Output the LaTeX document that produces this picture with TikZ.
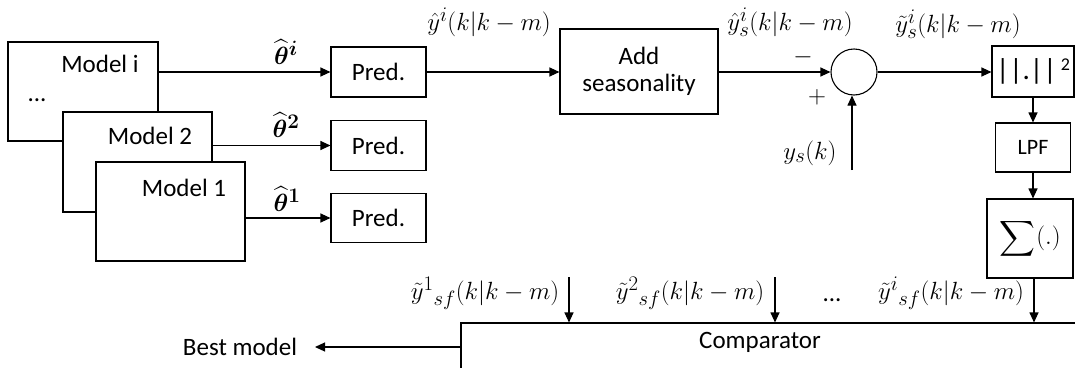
\documentclass[tikz,border=0pt]{standalone}
\usepackage{amsmath}
\usepackage{fontspec}
\setmainfont{Carlito}
\usetikzlibrary{arrows.meta}
\begin{document}
\begin{tikzpicture}[x=1pt,y=-1pt,line width=1.1pt,
  box/.style={draw,rectangle,inner sep=0pt,fill=white},
  arr/.style={-{Triangle[length=10pt,width=9pt]}},
  lbl/.style={inner sep=0pt},
  mlbl/.style={inner sep=0pt,font=\fontsize{27.5}{32}\selectfont},
  font=\fontsize{25}{30}\selectfont]
\clip (0,0) rectangle (1075,367);
% model boxes
\node[box,minimum width=150pt,minimum height=99pt] (mi) at (83,91.5) {};
\node[lbl] (mit) at (100,64) {Model i};
\node[lbl] (dots1) at (37,100) {...};
\node[box,minimum width=149pt,minimum height=100pt] (m2) at (137.5,162) {};
\node[lbl] (m2t) at (150,136) {Model 2};
\node[box,minimum width=149pt,minimum height=99pt] (m1) at (170.5,211.5) {};
\node[lbl] (m1t) at (184,188) {Model 1};
% pred boxes
\node[box,minimum width=95pt,minimum height=50pt] (pi) at (378.5,72) {Pred.};
\node[box,minimum width=95pt,minimum height=50pt] (p2) at (378.5,145.5) {Pred.};
\node[box,minimum width=95pt,minimum height=49pt] (p1) at (378.5,218) {Pred.};
\draw[arr] (pi.west -| mi.east) -- (pi.west);
\draw[arr] (p2.west -| m2.east) -- (p2.west);
\draw[arr] (p1.west -| m1.east) -- (p1.west);
\node[mlbl] (thi) at (286,52) {$\widehat{\boldsymbol{\theta}}{}^{\boldsymbol{i}}$};
\node[mlbl] (th2) at (286,125) {$\widehat{\boldsymbol{\theta}}{}^{\boldsymbol{2}}$};
\node[mlbl] (th1) at (287,199) {$\widehat{\boldsymbol{\theta}}{}^{\boldsymbol{1}}$};
% add seasonality
\node[box,minimum width=158pt,minimum height=85pt,align=center] (add) at (639,71.5) {Add\\[-3pt]seasonality};
\draw[arr] (pi.east) -- (pi.east -| add.west);
\node[mlbl] (l1) at (489,22) {$\hat{y}^{i}(k|k-m)$};
% summing junction
\node[draw,circle,minimum size=46pt,inner sep=0pt] (sj) at (854,72) {};
\draw[arr] (add.east |- sj.west) -- (sj.west);
\node[mlbl] (l2) at (790,22) {$\hat{y}^{i}_{s}(k|k-m)$};
\node[lbl] (minus) at (803,57) {$-$};
\node[lbl] (plus) at (817,97) {$+$};
\coordinate (ys) at (852,170);
\draw[arr] (ys) -- (ys |- sj.south);
\node[mlbl] (ysl) at (810,153) {$y_{s}(k)$};
% norm, LPF, sum
\node[box,minimum width=82pt,minimum height=51pt] (nrm) at (1033,71.5) {{\fontsize{29}{32}\selectfont||.||}\,\raisebox{9pt}{\fontsize{18}{20}\selectfont 2}};
\draw[arr] (sj.east) -- (sj.east -| nrm.west);
\node[mlbl] (l3) at (958,24) {$\tilde{y}^{i}_{s}(k|k-m)$};
\node[box,minimum width=75pt,minimum height=49pt,font=\fontsize{22}{26}\selectfont] (lpf) at (1033,147.5) {LPF};
\draw[arr] (nrm.south) -- (lpf.north);
\node[box,minimum width=86pt,minimum height=79pt] (sum) at (1030,238.5) {{\fontsize{46}{48}\selectfont$\displaystyle\sum$}\hspace{1pt}{\fontsize{26}{28}\selectfont$(.)$}};
\draw[arr] (lpf.south) -- (lpf.south |- sum.north);
% comparator
\node[box,minimum width=639pt,minimum height=77pt] (comp) at (780.5,361.5) {};
\node[lbl] (compt) at (760,342) {Comparator};
\coordinate (c1) at (569,277);
\coordinate (c2) at (775,277);
\coordinate (ci) at (1034,278);
\draw[arr] (c1) -- (c1 |- comp.north);
\draw[arr] (c2) -- (c2 |- comp.north);
\draw[arr] (sum.south -| ci) -- (ci |- comp.north);
\node[mlbl] (b1) at (485,293) {$\tilde{y}^{1}{}_{sf}(k|k-m)$};
\node[mlbl] (b2) at (690,293) {$\tilde{y}^{2}{}_{sf}(k|k-m)$};
\node[lbl] (bd) at (832,300) {...};
\node[mlbl] (bi) at (951,293) {$\tilde{y}^{i}{}_{sf}(k|k-m)$};
% best model
\node[lbl] (best) at (240,347) {Best model};
\coordinate (bmend) at (315,347);
\draw[arr] (comp.west |- bmend) -- (bmend);
\end{tikzpicture}
\end{document}
